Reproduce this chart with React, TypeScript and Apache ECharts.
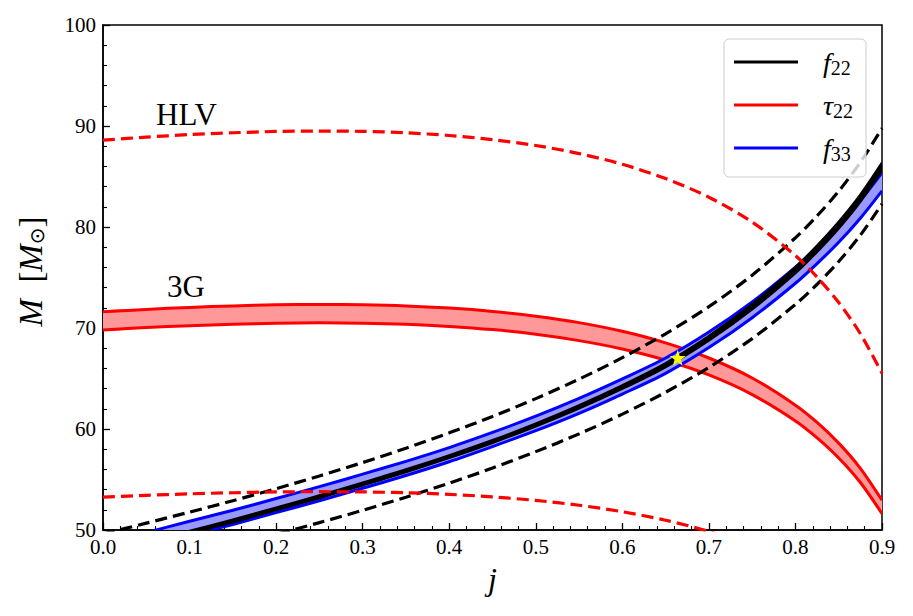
import React, { useEffect, useRef } from "react";
import * as echarts from "echarts";

// spin parameter j
const J = [0, 0.05, 0.1, 0.15, 0.2, 0.25, 0.3, 0.35, 0.4, 0.45, 0.5, 0.55, 0.6, 0.65, 0.7, 0.75, 0.8, 0.825, 0.85, 0.875, 0.9];

// f22 (3G) narrow black band
const f22Upper = [47.69, 48.77, 49.9, 51.03, 52.22, 53.42, 54.69, 55.99, 57.39, 58.89, 60.53, 62.34, 64.33, 66.51, 69.2, 72.35, 76.02, 78.16, 80.52, 83.2, 86.36];
const f22Lower = [47.43, 48.51, 49.64, 50.77, 51.96, 53.16, 54.43, 55.73, 57.13, 58.63, 60.27, 62.04, 63.99, 66.13, 68.76, 71.85, 75.44, 77.54, 79.86, 82.5, 85.6];

// f33 (3G) blue band
const f33Upper = [48.66, 49.74, 50.87, 51.95, 53.12, 54.29, 55.53, 56.8, 58.16, 59.66, 61.27, 63.03, 64.96, 67.03, 69.6, 72.58, 76.03, 78.02, 80.19, 82.63, 85.38];
const f33Lower = [47.26, 48.34, 49.47, 50.55, 51.72, 52.89, 54.13, 55.4, 56.76, 58.26, 59.83, 61.55, 63.46, 65.51, 68.06, 71.02, 74.43, 76.38, 78.49, 80.87, 83.58];

// f22 HLV bounds (black dashed)
const f22HLVUpper = [49.6, 50.68, 51.77, 52.9, 54.09, 55.35, 56.68, 58.1, 59.62, 61.24, 63.01, 64.94, 67.06, 69.43, 72.11, 75.23, 78.93, 81.1, 83.55, 86.4, 89.78];
const f22HLVLower = [45.51, 46.45, 47.44, 48.48, 49.58, 50.73, 51.95, 53.25, 54.64, 56.13, 57.76, 59.52, 61.47, 63.64, 66.1, 68.95, 72.34, 74.33, 76.58, 79.19, 82.29];

// tau22 3G band (red)
const tau3GUpper = [71.6, 71.84, 72.04, 72.19, 72.29, 72.33, 72.3, 72.19, 71.97, 71.64, 71.17, 70.53, 69.67, 68.53, 67.03, 65.05, 62.36, 60.65, 58.6, 56.11, 52.95];
const tau3GLower = [69.8, 70.04, 70.23, 70.37, 70.48, 70.51, 70.48, 70.37, 70.16, 69.84, 69.38, 68.75, 67.92, 66.81, 65.35, 63.41, 60.8, 59.12, 57.13, 54.7, 51.62];

// tau22 HLV bounds (red dashed)
const tauHLVUpper = [88.6, 88.9, 89.15, 89.33, 89.46, 89.5, 89.47, 89.33, 89.06, 88.65, 88.07, 87.27, 86.21, 84.8, 82.95, 80.49, 77.17, 75.04, 72.52, 69.43, 65.52];
const tauHLVLower = [53.25, 53.43, 53.58, 53.69, 53.77, 53.79, 53.77, 53.69, 53.53, 53.28, 52.93, 52.45, 51.81, 50.97, 49.85, 48.38, 46.38, 45.1, 43.59, 41.73, 39.38];

// injected point
const starJ = [0.664];
const starM = [67.05];

const legendLabels: Record<string, string> = {
  f22: "{i|f}{s|22}",
  "τ22": "{i|τ}{s|22}",
  f33: "{i|f}{s|33}",
};

const FONT = '"Liberation Serif", "DejaVu Serif", serif';
const SMOOTH = 0.3;

const pts = (ys: number[]) => J.map((j, i) => [j, ys[i]]);

function dashed(name: string, ys: number[], color: string) {
  return {
    type: "line",
    name,
    color,
    data: pts(ys),
    smooth: SMOOTH,
    symbol: "none",
    silent: true,
    lineStyle: { color, width: 3.2, type: [12, 6], cap: "butt" },
  };
}

function bandSeries(name: string, up: number[], lo: number[], fill: string, stroke: string, width: number) {
  return {
    type: "custom",
    name,
    coordinateSystem: "cartesian2d",
    clip: true,
    silent: true,
    data: J.map((j, i) => [j, lo[i], up[i]]),
    encode: { x: 0, y: [1, 2] },
    renderItem: (params: any, api: any) => {
      if (params.dataIndex !== 0) return null;
      const n = params.dataInsideLength ?? J.length;
      const top: number[][] = [];
      const bot: number[][] = [];
      for (let k = 0; k < n; k++) {
        top.push(api.coord([api.value(0, k), api.value(2, k)]));
        bot.push(api.coord([api.value(0, k), api.value(1, k)]));
      }
      return {
        type: "group",
        children: [
          {
            type: "polygon",
            shape: { points: top.concat(bot.slice().reverse()), smooth: SMOOTH },
            style: { fill, stroke: "none" },
          },
          {
            type: "polyline",
            shape: { points: top, smooth: SMOOTH },
            style: { fill: "none", stroke, lineWidth: width },
          },
          {
            type: "polyline",
            shape: { points: bot, smooth: SMOOTH },
            style: { fill: "none", stroke, lineWidth: width },
          },
        ],
      };
    },
  };
}

const STAR = "path://M50,0 L61.8,35.1 L98.5,35.1 L68.8,56.8 L79.4,91 L50,70 L20.6,91 L31.2,56.8 L1.5,35.1 L38.2,35.1 Z";

export default function App() {
  const ref = useRef<HTMLDivElement>(null);
  useEffect(() => {
    if (!ref.current) return;
    const chart = echarts.init(ref.current, null, { renderer: "svg" });
    const axisCommon = {
      axisLine: { show: true, lineStyle: { color: "#000", width: 1.5 } },
      axisTick: { show: true, inside: true, length: 7, lineStyle: { color: "#000", width: 1.3 } },
      minorTick: { show: true, splitNumber: 5, length: 4, lineStyle: { color: "#000", width: 1.1 } },
      splitLine: { show: false },
      minorSplitLine: { show: false },
    };
    chart.setOption({
      animation: false,
      backgroundColor: "#fff",
      grid: {
        left: 103,
        right: 31,
        top: 25,
        bottom: 86,
        show: true,
        borderColor: "#000",
        borderWidth: 1.5,
        backgroundColor: "transparent",
      },
      xAxis: {
        type: "value",
        min: 0,
        max: 0.9,
        interval: 0.1,
        ...axisCommon,
        axisLabel: {
          color: "#000",
          fontSize: 21,
          fontFamily: FONT,
          margin: 6,
          formatter: (v: number) => v.toFixed(1),
        },
        name: "j",
        nameLocation: "middle",
        nameGap: 33,
        nameTextStyle: { color: "#000", fontSize: 32, fontFamily: FONT, fontStyle: "italic" },
      },
      yAxis: {
        type: "value",
        min: 50,
        max: 100,
        interval: 10,
        ...axisCommon,
        axisLabel: { color: "#000", fontSize: 21, fontFamily: FONT, margin: 7 },
        name: "{i|M}  [{i|M}{s|⊙}]",
        nameLocation: "middle",
        nameGap: 56,
        nameTextStyle: {
          color: "#000",
          fontSize: 33,
          fontFamily: FONT,
          padding: [0, 0, 0, 12],
          rich: {
            i: { fontSize: 33, fontFamily: FONT, fontStyle: "italic", color: "#000" },
            s: { fontSize: 20, fontFamily: '"DejaVu Sans", sans-serif', color: "#000", padding: [12, 0, 0, 0] },
          },
        },
      },
      legend: {
        show: true,
        orient: "vertical",
        right: 47,
        top: 39,
        padding: [9, 13, 13, 10],
        itemWidth: 64,
        itemHeight: 3,
        itemGap: 13,
        selectedMode: false,
        backgroundColor: "rgba(255,255,255,0.8)",
        borderColor: "#cccccc",
        borderWidth: 1,
        borderRadius: 5,
        icon: "rect",
        data: [
          { name: "f22", icon: "rect", itemStyle: { color: "#000000" } },
          { name: "τ22", icon: "rect", itemStyle: { color: "#ff0000" } },
          { name: "f33", icon: "rect", itemStyle: { color: "#0000ff" } },
        ],
        formatter: (name: string) => legendLabels[name] ?? name,
        textStyle: {
          color: "#000",
          fontFamily: FONT,
          rich: {
            i: { fontSize: 28, fontFamily: FONT, fontStyle: "italic", color: "#000", padding: [0, 0, 0, 20] },
            s: { fontSize: 20, fontFamily: FONT, color: "#000", padding: [12, 0, 0, 0] },
          },
        },
      },
      graphic: [
        { type: "text", left: 156, top: 99, style: { text: "HLV", font: `31px ${FONT}`, fill: "#000" }, z: 50 },
        { type: "text", left: 167, top: 271, style: { text: "3G", font: `31px ${FONT}`, fill: "#000" }, z: 50 },
      ],
      series: [
        bandSeries("τ22", tau3GUpper, tau3GLower, "#ff9999", "#ff0000", 3),
        dashed("f22hlv_up", f22HLVUpper, "#000000"),
        dashed("f22hlv_lo", f22HLVLower, "#000000"),
        bandSeries("f33", f33Upper, f33Lower, "#9999ff", "#0000ff", 3),
        bandSeries("f22", f22Upper, f22Lower, "#000000", "#000000", 2.4),
        dashed("tauhlv_up", tauHLVUpper, "#ff0000"),
        dashed("tauhlv_lo", tauHLVLower, "#ff0000"),
        {
          type: "scatter",
          name: "star",
          data: starJ.map((j, i) => [j, starM[i]]),
          symbol: STAR,
          symbolSize: 16,
          itemStyle: { color: "#ffff00", opacity: 1 },
          silent: true,
          z: 10,
        },
      ],
    });
    return () => chart.dispose();
  }, []);
  return <div ref={ref} style={{ position: "fixed", left: 0, top: 0, width: 913, height: 616 }} />;
}
